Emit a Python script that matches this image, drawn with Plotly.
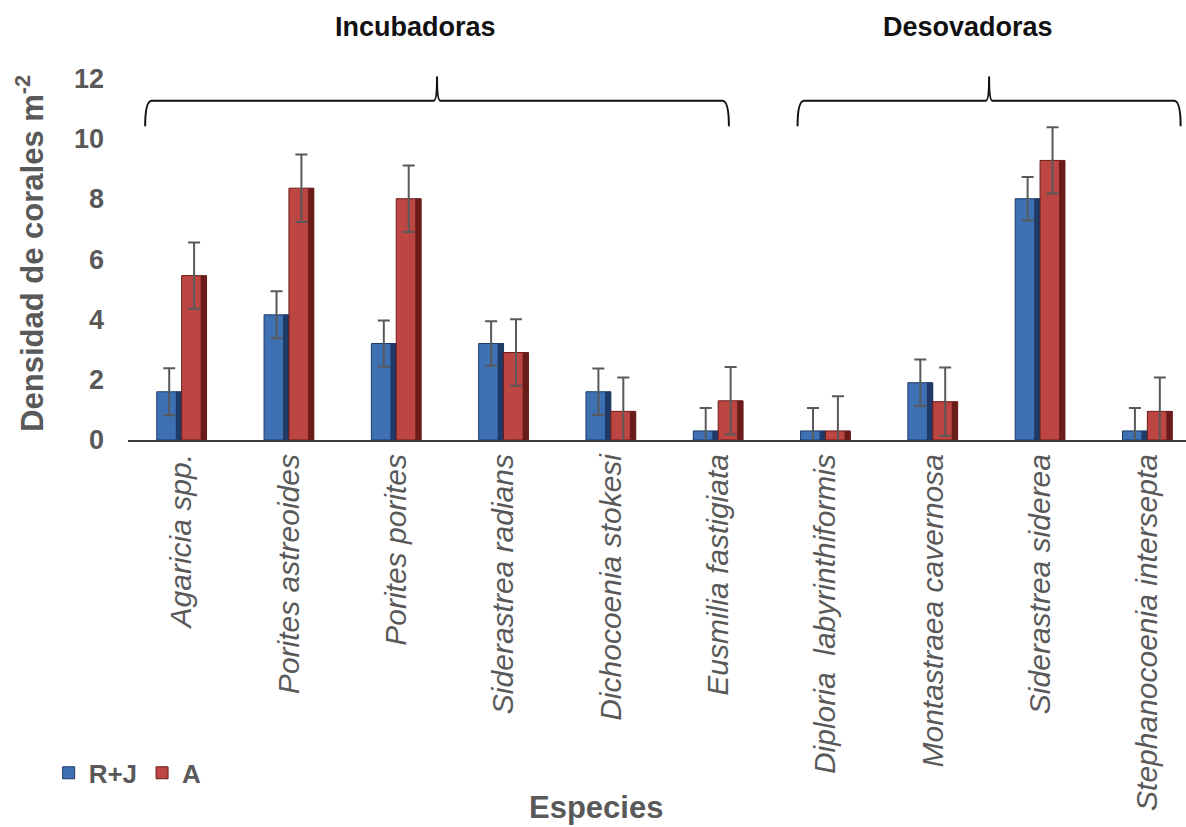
import plotly.graph_objects as go
import numpy as np

# Species (x categories)
species = [
    "Agaricia spp.", "Porites astreoides", "Porites porites", "Siderastrea radians",
    "Dichocoenia stokesi", "Eusmilia fastigiata", "Diploria\u00a0\u00a0labyrinthiformis",
    "Montastraea cavernosa", "Siderastrea siderea", "Stephanocoenia intersepta",
]

# Coral density (colonies per m^2) and error
rj_vals = [1.6, 4.15, 3.2, 3.2, 1.6, 0.3, 0.3, 1.9, 8.0, 0.3]
rj_err = [0.78, 0.78, 0.76, 0.74, 0.77, 0.76, 0.76, 0.77, 0.72, 0.76]
a_vals = [5.45, 8.35, 8.0, 2.9, 0.95, 1.3, 0.3, 1.27, 9.27, 0.95]
a_err = [1.1, 1.12, 1.1, 1.1, 1.12, 1.12, 1.15, 1.13, 1.1, 1.12]

# Reproductive groups: (label, first index, last index, left pad, right pad)
groups = [("Incubadoras", 0, 5, 0.34, 0.10), ("Desovadoras", 6, 9, 0.26, 0.31)]

yticks = [0, 2, 4, 6, 8, 10, 12]

FONT = "Arial, Liberation Sans, sans-serif"
GRAY = "#595959"
x = np.arange(len(species))
BW = 0.232      # bar width (category units)
SW = 0.055      # shaded side strip width

fig = go.Figure()

series = [
    ("<b>R+J</b>", rj_vals, rj_err, -BW, "#3e70b4", "#1f3a66"),
    ("<b>A</b>", a_vals, a_err, 0.0, "#bd4542", "#6a1c1b"),
]
for name, vals, err, off, face, dark in series:
    fig.add_trace(go.Bar(
        x=x, y=vals, name=name, width=BW, offset=off,
        marker=dict(color=face, line=dict(color=dark, width=1)),
        error_y=dict(type="data", array=err, visible=True,
                     color=GRAY, thickness=2, width=6),
    ))
    # darker right-hand side of each bar for a bevelled look
    fig.add_trace(go.Bar(
        x=x, y=vals, width=SW, offset=off + BW - SW, showlegend=False,
        hoverinfo="skip", marker=dict(color=dark, line=dict(width=0)),
    ))

# Braces and group labels above the bars
for label, i0, i1, lp, rp in groups:
    x0 = i0 - lp
    x1 = i1 + rp
    xm = (x0 + x1) / 2
    yl, yt, ye = 11.25, 12.05, 10.4
    r = 0.06
    path = (f"M {x0},{ye} Q {x0},{yl} {x0 + r},{yl} L {xm - 0.03},{yl} "
            f"Q {xm},{yl} {xm},{yt} Q {xm},{yl} {xm + 0.03},{yl} "
            f"L {x1 - r},{yl} Q {x1},{yl} {x1},{ye}")
    fig.add_shape(type="path", path=path, xref="x", yref="y",
                  line=dict(color="#111111", width=2))
    fig.add_annotation(x=xm - 0.2, xref="x", y=1.087, yref="paper",
                       xanchor="center", yanchor="middle",
                       text=f"<b>{label}</b>", showarrow=False,
                       font=dict(family=FONT, size=27, color="#111111"))

fig.add_annotation(x=-0.0926, xref="paper", y=0.49, yref="paper",
                   xanchor="center", yanchor="middle",
                   text="<b>Densidad de corales m<sup>-2</sup></b>", textangle=-90,
                   showarrow=False, font=dict(family=FONT, size=31, color=GRAY))
fig.add_annotation(x=0.442, xref="paper", y=-0.968, yref="paper",
                   xanchor="center", yanchor="middle",
                   text="<b>Especies</b>", showarrow=False,
                   font=dict(family=FONT, size=31, color=GRAY))

fig.update_layout(
    width=1186, height=827,
    margin=dict(l=128, r=0, t=60, b=387),
    paper_bgcolor="white", plot_bgcolor="white",
    barmode="overlay", showlegend=True,
    legend=dict(orientation="h", x=-0.075, xanchor="left", y=-0.876, yanchor="middle",
                font=dict(family=FONT, size=26, color=GRAY),
                itemwidth=30, traceorder="normal"),
    xaxis=dict(range=[-0.5, 9.36], tickvals=x, ticktext=species, tickangle=-90,
               tickfont=dict(family=FONT, size=30, color=GRAY, style="italic"),
               showline=True, linecolor="#3a3a3a", linewidth=2,
               showgrid=False, zeroline=False, ticks=""),
    yaxis=dict(range=[0, 12.6], tickvals=yticks, showgrid=False, zeroline=False,
               showline=False, ticks="", ticklabelstandoff=23,
               tickfont=dict(family=FONT, size=27, color=GRAY, weight="bold")),
)

fig.write_html("out.html")
